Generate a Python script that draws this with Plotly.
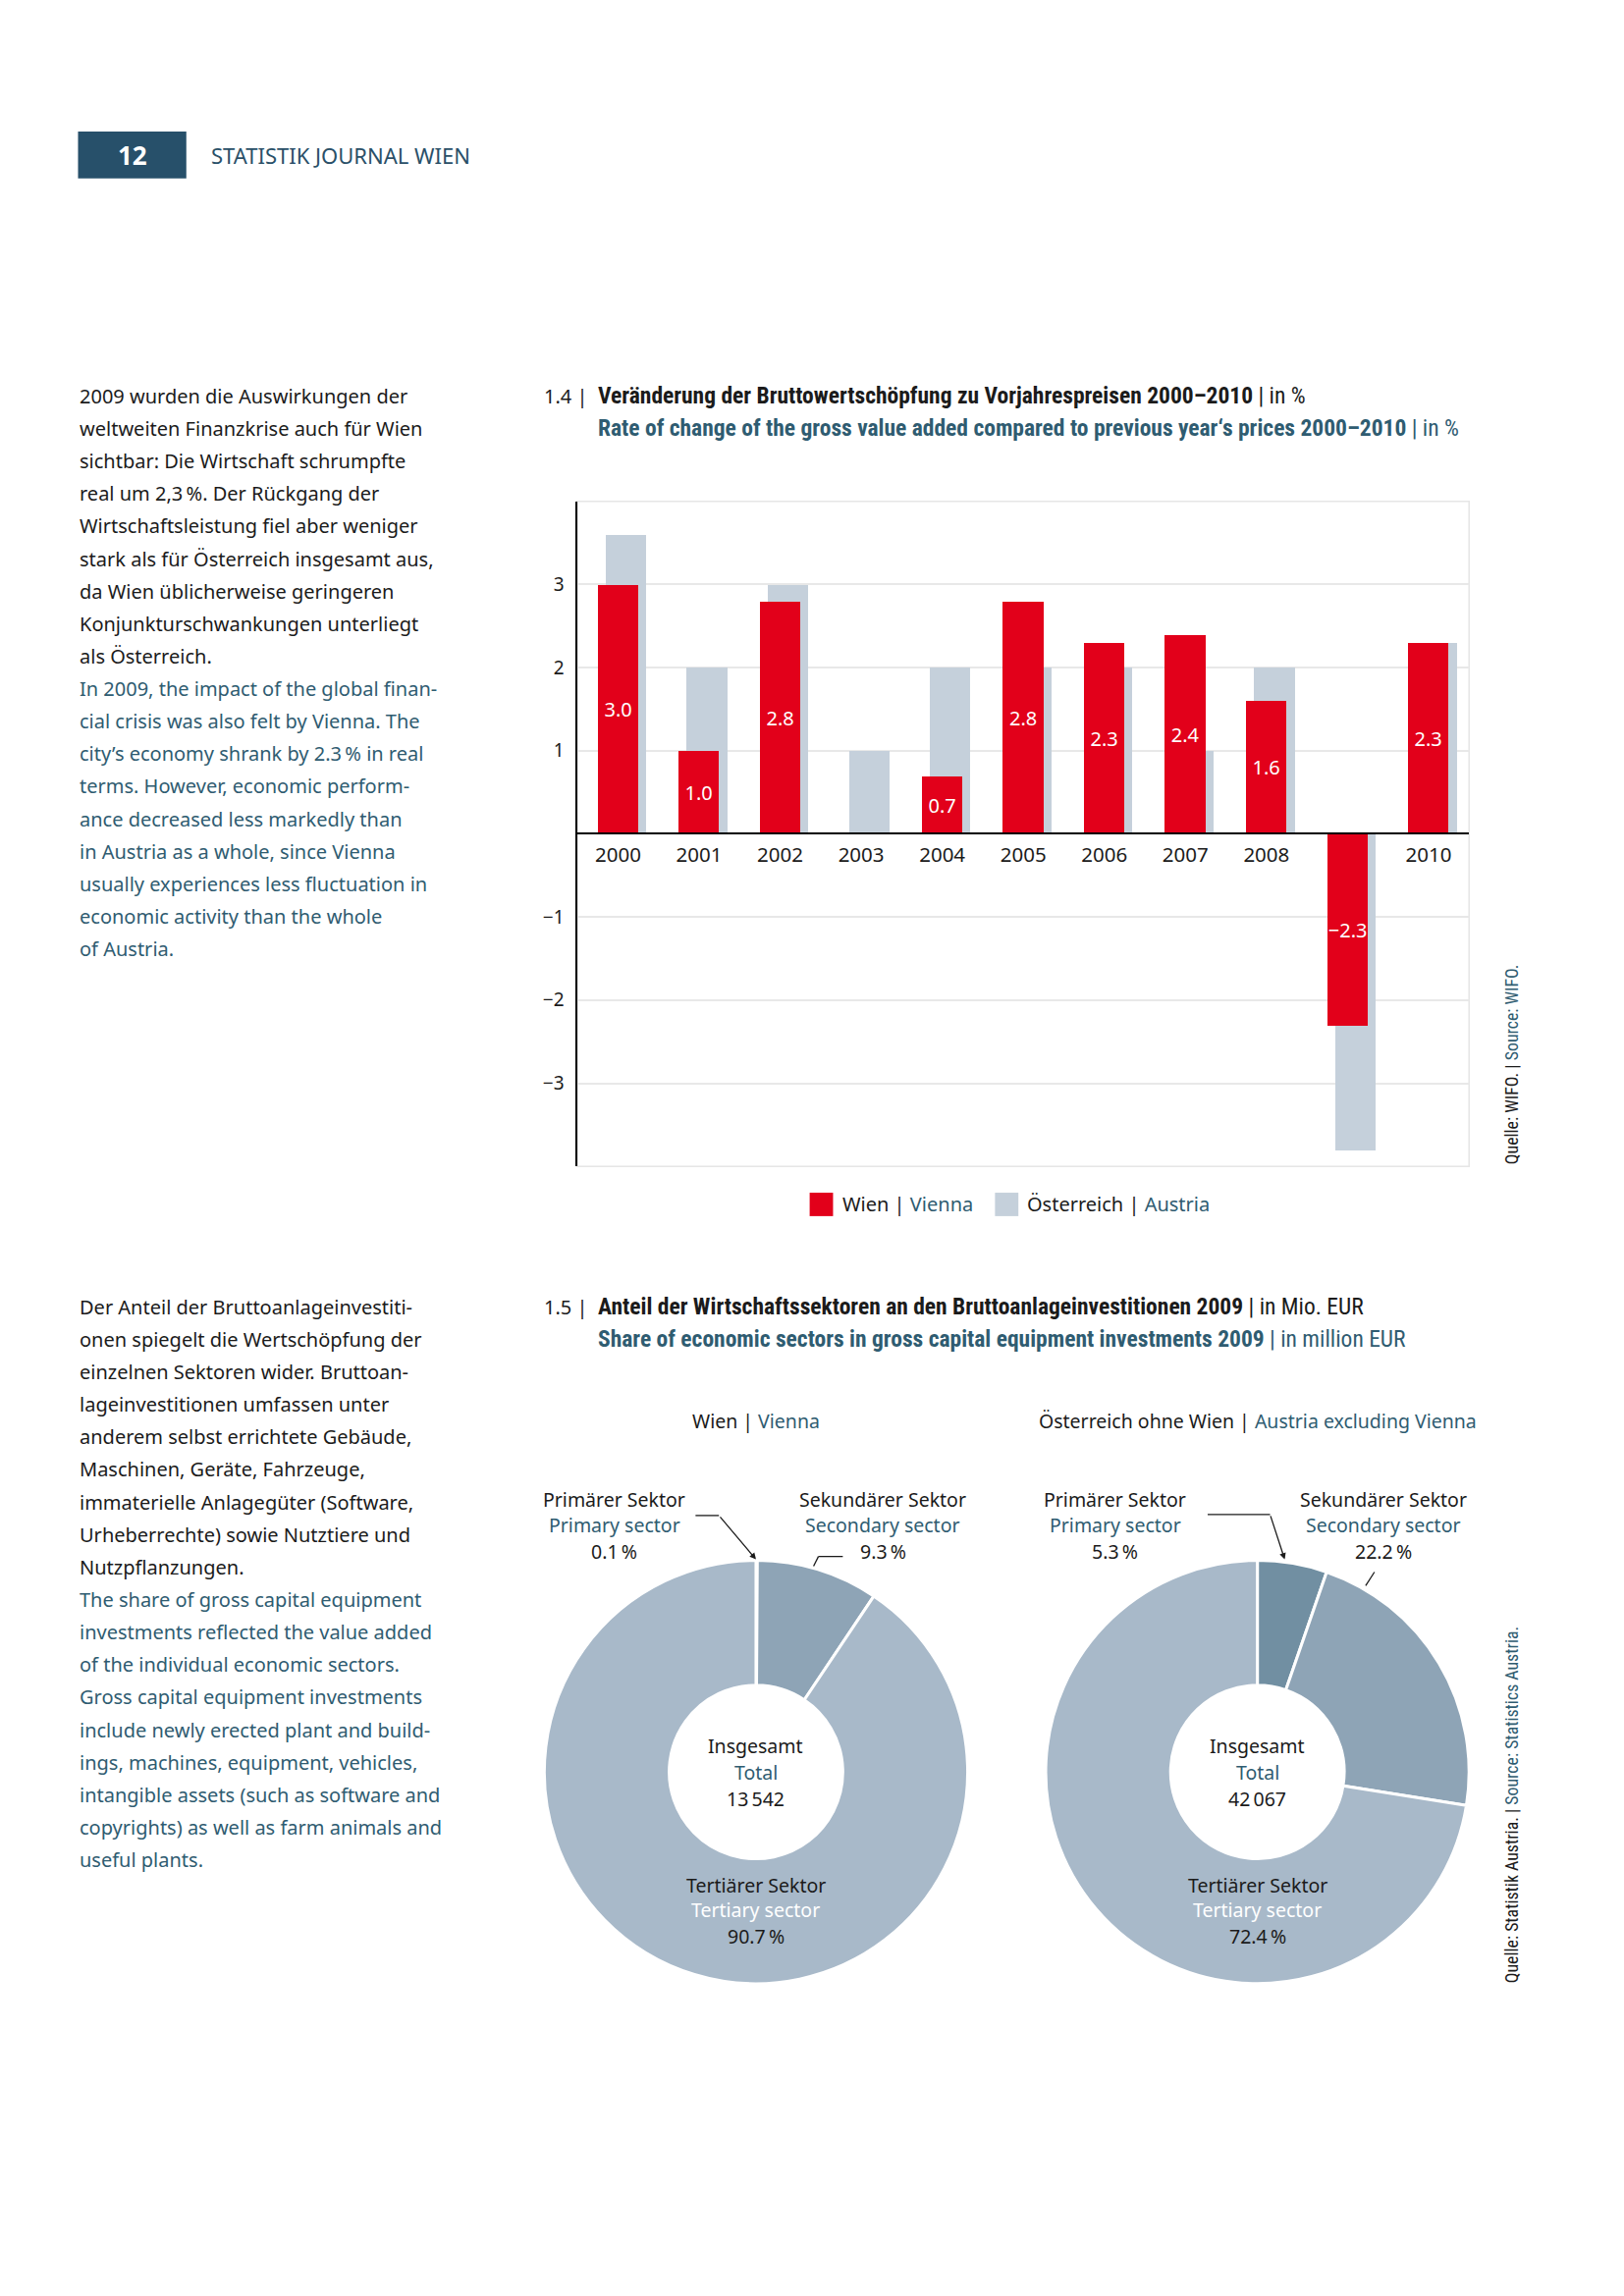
import plotly.graph_objects as go

W, H = 1654, 2339
S = 0.9935  # calibration of measured reference coordinates
BLACK = "#1b1b1b"
TEAL = "#2f5c71"
RED = "#e2001a"
GREY = "#c5d0db"
PRIM = "#718fa2"
SEC = "#8ea4b6"
TERT = "#a8b9c9"
BODY = "Noto Sans, Open Sans, sans-serif"
COND = "Liberation Sans Narrow, Roboto Condensed, DejaVu Sans Condensed, sans-serif"

# ---------------- data ----------------
years = ["2000", "2001", "2002", "2003", "2004", "2005", "2006", "2007", "2008", "2009", "2010"]
year_tick_labels = ["2000", "2001", "2002", "2003", "2004", "2005", "2006", "2007", "2008", "", "2010"]
vienna_change = [3.0, 1.0, 2.8, None, 0.7, 2.8, 2.3, 2.4, 1.6, -2.3, 2.3]
austria_change = [3.6, 2.0, 3.0, 1.0, 2.0, 2.0, 2.0, 1.0, 2.0, -3.8, 2.3]
y_ticks = [-3, -2, -1, 1, 2, 3]
y_tick_labels = ["\u22123", "\u22122", "\u22121", "1", "2", "3"]

sectors_de = ["Primärer Sektor", "Sekundärer Sektor", "Tertiärer Sektor"]
sectors_en = ["Primary sector", "Secondary sector", "Tertiary sector"]
vienna_share = [0.1, 9.3, 90.7]
austria_share = [5.3, 22.2, 72.4]
vienna_total = 13542
austria_total = 42067

block1_de = ["2009 wurden die Auswirkungen der", "weltweiten Finanzkrise auch für Wien",
             "sichtbar: Die Wirtschaft schrumpfte", "real um 2,3\u2009%. Der Rückgang der",
             "Wirtschaftsleistung fiel aber weniger", "stark als für Österreich insgesamt aus,",
             "da Wien üblicherweise geringeren", "Konjunkturschwankungen unterliegt",
             "als Österreich."]
block1_en = ["In 2009, the impact of the global finan-", "cial crisis was also felt by Vienna. The",
             "city\u2019s economy shrank by 2.3\u2009% in real", "terms. However, economic perform-",
             "ance decreased less markedly than", "in Austria as a whole, since Vienna",
             "usually experiences less fluctuation in", "economic activity than the whole",
             "of Austria."]
block2_de = ["Der Anteil der Bruttoanlageinvestiti-", "onen spiegelt die Wertschöpfung der",
             "einzelnen Sektoren wider. Bruttoan-", "lageinvestitionen umfassen unter",
             "anderem selbst errichtete Gebäude,", "Maschinen, Geräte, Fahrzeuge,",
             "immaterielle Anlagegüter (Software,", "Urheberrechte) sowie Nutztiere und",
             "Nutzpflanzungen."]
block2_en = ["The share of gross capital equipment", "investments reflected the value added",
             "of the individual economic sectors.", "Gross capital equipment investments",
             "include newly erected plant and build-", "ings, machines, equipment, vehicles,",
             "intangible assets (such as software and", "copyrights) as well as farm animals and",
             "useful plants."]


def fx(x):
    return x * S / W


def fy(y):
    return 1 - y * S / H


annotations = []
shapes = []


def ann(text, x, y, size=20, color=BLACK, xanchor="left", yanchor="middle", family=BODY, **kw):
    annotations.append(dict(text=text, x=fx(x), y=fy(y), xref="paper", yref="paper",
                            xanchor=xanchor, yanchor=yanchor, showarrow=False,
                            font=dict(size=size, color=color, family=family), **kw))


def teal(s):
    return f"<span style='color:{TEAL}'>{s}</span>"


# ---------------- header ----------------
shapes.append(dict(type="rect", xref="paper", yref="paper", x0=fx(80), x1=fx(191), y0=fy(183), y1=fy(135),
                   fillcolor="#27506a", line=dict(width=0)))
ann("<b>12</b>", 135.5, 159, size=26, color="white", xanchor="center")
ann("STATISTIK JOURNAL WIEN", 214, 159, size=22, color="#2a5068")

# ---------------- left texts ----------------
LS = 33.35
TS = 20
for i, line in enumerate(block1_de + block1_en):
    ann(line, 80, 406 + i * LS, size=TS, color=BLACK if i < len(block1_de) else TEAL)
for i, line in enumerate(block2_de + block2_en):
    ann(line, 80, 1340 + i * LS, size=TS, color=BLACK if i < len(block2_de) else TEAL)

# ---------------- titles ----------------
HS = 23.5
ann("1.4 |", 556, 406, size=20)
ann("<b>Veränderung der Bruttowertschöpfung zu Vorjahrespreisen 2000–2010</b> | in %", 611, 406, size=HS, family=COND)
ann(teal("<b>Rate of change of the gross value added compared to previous year\u2018s prices 2000–2010</b> | in %"),
    611, 439, size=HS, family=COND)
ann("1.5 |", 556, 1340, size=20)
ann("<b>Anteil der Wirtschaftssektoren an den Bruttoanlageinvestitionen 2009</b> | in Mio. EUR", 611, 1340, size=HS, family=COND)
ann(teal("<b>Share of economic sectors in gross capital equipment investments 2009</b> | in million EUR"),
    611, 1373, size=HS, family=COND)

# ---------------- bar chart ----------------
X0, X1, Y0, Y1 = 592, 1506, 514, 1196
zero_frac = fy((Y0 + Y1) / 2)

bar_text = ["" if v is None else f"{v:.1f}".replace("-", "\u2212") for v in vienna_change]

fig = go.Figure()
fig.add_trace(go.Bar(x=years, y=austria_change, marker=dict(color=GREY, line=dict(width=0)),
                     width=0.5, offset=-0.15, name="Österreich | Austria", hoverinfo="skip",
                     showlegend=False))
fig.add_trace(go.Bar(x=years, y=vienna_change, marker=dict(color=RED, line=dict(width=0)),
                     width=0.5, offset=-0.25, name="Wien | Vienna", hoverinfo="skip",
                     text=bar_text, textposition="inside", insidetextanchor="middle", textangle=0,
                     textfont=dict(color="white", size=20, family=BODY), constraintext="none",
                     showlegend=False))

shapes.append(dict(type="rect", xref="x domain", yref="y domain", x0=0, x1=1, y0=0, y1=1,
                   line=dict(color="#e6e6e6", width=1.5), layer="below"))

# legend
shapes.append(dict(type="rect", xref="paper", yref="paper", x0=fx(830), x1=fx(854), y0=fy(1247), y1=fy(1223),
                   fillcolor=RED, line=dict(width=0)))
ann("Wien | " + teal("Vienna"), 862, 1235, size=20)
shapes.append(dict(type="rect", xref="paper", yref="paper", x0=fx(1020), x1=fx(1044), y0=fy(1247), y1=fy(1223),
                   fillcolor=GREY, line=dict(width=0)))
ann("Österreich | " + teal("Austria"), 1051, 1235, size=20)

# sources
ann("Quelle: WIFO. | " + teal("Source: WIFO."), 1549, 1196, size=17.8, family=COND,
    xanchor="center", yanchor="bottom", textangle=-90)
ann("Quelle: Statistik Austria. | " + teal("Source: Statistics Austria."), 1549, 2035, size=17.8, family=COND,
    xanchor="center", yanchor="bottom", textangle=-90)

# ---------------- donuts ----------------
R = 217
pies = [
    (775, vienna_share, vienna_total, [PRIM, SEC, TERT], "Wien | " + teal("Vienna"), 630, 905),
    (1289, austria_share, austria_total, [PRIM, SEC, TERT], "Österreich ohne Wien | " + teal("Austria excluding Vienna"), 1143, 1418),
]
CY = 1817
PS = 19.5
for cx, shares, total, cols, sub, px_prim, px_sec in pies:
    fig.add_trace(go.Pie(values=shares, labels=sectors_de, sort=False, direction="clockwise", rotation=0,
                         hole=0.41, domain=dict(x=[fx(cx - R), fx(cx + R)], y=[fy(CY + R), fy(CY - R)]),
                         marker=dict(colors=cols, line=dict(color="white", width=3)),
                         textinfo="none", hoverinfo="skip", showlegend=False))
    ann(sub, cx, 1457, size=PS, xanchor="center")
    tot = f"{total:,}".replace(",", "\u2009")
    ann("Insgesamt", cx, 1790, size=PS, xanchor="center")
    ann("Total", cx, 1817, size=PS, color=TEAL, xanchor="center")
    ann(tot, cx, 1844, size=PS, xanchor="center")
    ann(sectors_de[2], cx, 1933, size=PS, xanchor="center")
    ann(sectors_en[2], cx, 1958, size=PS, color="white", xanchor="center")
    ann(f"{shares[2]:.1f}\u2009%", cx, 1985, size=PS, xanchor="center")
    ann(sectors_de[0], px_prim, 1537, size=PS, xanchor="center")
    ann(sectors_en[0], px_prim, 1564, size=PS, color=TEAL, xanchor="center")
    ann(f"{shares[0]:.1f}\u2009%", px_prim, 1591, size=PS, xanchor="center")
    ann(sectors_de[1], px_sec, 1537, size=PS, xanchor="center")
    ann(sectors_en[1], px_sec, 1564, size=PS, color=TEAL, xanchor="center")
    ann(f"{shares[1]:.1f}\u2009%", px_sec, 1591, size=PS, xanchor="center")


def line(x0, y0, x1, y1):
    shapes.append(dict(type="line", xref="paper", yref="paper", x0=fx(x0), y0=fy(y0), x1=fx(x1), y1=fy(y1),
                       line=dict(color=BLACK, width=1.3)))


def arrow(x_head, y_head, x_tail, y_tail):
    annotations.append(dict(text="", x=fx(x_head), y=fy(y_head), xref="paper", yref="paper",
                            showarrow=True, ax=(x_tail - x_head) * S, ay=(y_tail - y_head) * S,
                            axref="pixel", ayref="pixel",
                            arrowhead=2, arrowsize=1, arrowwidth=1.3, arrowcolor=BLACK, standoff=0))


# Vienna leaders
line(713, 1554, 737, 1554)
arrow(775, 1599, 737, 1554)
line(834, 1606, 839, 1596)
line(839, 1596, 864, 1596)
# Austria leaders
line(1238, 1553, 1302, 1553)
arrow(1317, 1599, 1302, 1553)
line(1400, 1626, 1409, 1612)

fig.update_layout(
    width=W, height=H, margin=dict(l=0, r=0, t=0, b=0), autosize=False,
    paper_bgcolor="white", plot_bgcolor="white", barmode="overlay", bargap=0,
    font=dict(family=BODY, color=BLACK, size=20),
    xaxis=dict(type="category", domain=[fx(X0), fx(X1)], anchor="free", position=zero_frac,
               range=[-0.5, 10.5], tickvals=years, ticktext=year_tick_labels, ticks="",
               showline=True, linecolor="black", linewidth=1.5, showgrid=False, zeroline=False,
               tickfont=dict(size=20.5, color=BLACK), ticklabelstandoff=3, fixedrange=True),
    yaxis=dict(domain=[fy(Y1), fy(Y0)], range=[-4, 4], tickvals=y_ticks, ticktext=y_tick_labels,
               ticks="", showline=True, linecolor="black", linewidth=1.5, showgrid=True,
               gridcolor="#e8e8e8", gridwidth=1.5, zeroline=False, tickfont=dict(size=19, color=BLACK),
               ticklabelstandoff=8, fixedrange=True),
    shapes=shapes, annotations=annotations, showlegend=False,
)

fig.write_html("out.html", config={"displayModeBar": False},
               post_script="document.body.style.margin='0';")
